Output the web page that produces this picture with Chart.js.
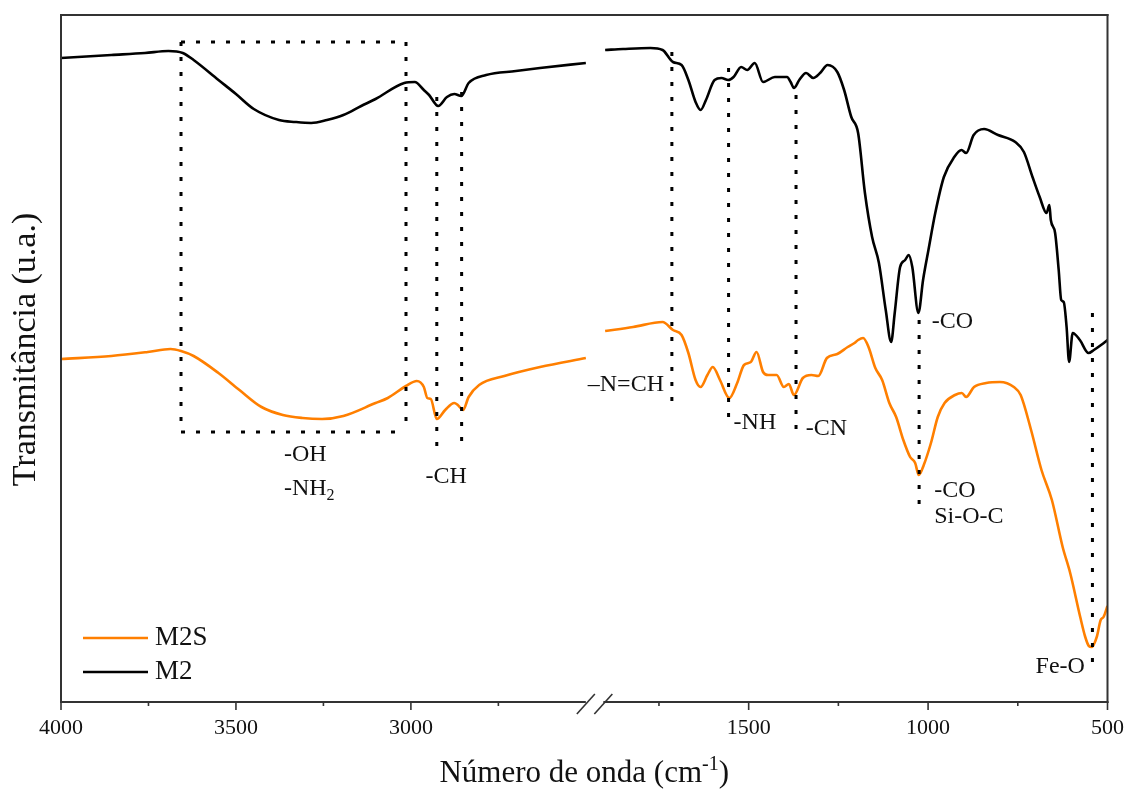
<!DOCTYPE html>
<html lang="pt">
<head>
<meta charset="utf-8">
<title>FTIR M2 / M2S</title>
<script src="https://cdn.jsdelivr.net/npm/chart.js@4.4.1/dist/chart.umd.min.js"></script>
<style>
  html, body { margin: 0; padding: 0; background: #fff; }
  #grafico { display: block; }
</style>
</head>
<body>
<canvas id="grafico" width="1124" height="789"></canvas>
<script>
'use strict';

// M2 – número de onda (cm-1) e transmitância (u.a.), trecho 4000–2500
const m2AltoNum = [4000, 3856, 3760, 3693, 3652, 3621, 3550, 3500, 3449, 3377, 3330, 3285, 3240, 3193, 3142, 3101, 3019, 2989, 2963, 2948, 2922, 2897, 2876, 2856, 2835, 2785, 2700, 2631, 2500];
const m2AltoT = [64.4, 64.7, 64.9, 65.1, 64.9, 64.2, 62.2, 60.8, 59.3, 58.2, 58.0, 57.9, 58.2, 58.7, 59.6, 60.3, 61.9, 62.0, 61.2, 60.7, 59.6, 60.5, 60.8, 60.6, 61.9, 62.7, 63.1, 63.4, 63.9];

// M2 – trecho 1900–500
const m2BaixoNum = [1900, 1850, 1774, 1740, 1711, 1687, 1668, 1648, 1634, 1619, 1595, 1576, 1557, 1542, 1521, 1504, 1483, 1460, 1427, 1393, 1383, 1374, 1359, 1340, 1320, 1301, 1280, 1253, 1234, 1214, 1195, 1176, 1156, 1137, 1118, 1103, 1093, 1078, 1064, 1054, 1044, 1027, 1014, 999, 980, 956, 927, 907, 894, 873, 844, 805, 757, 733, 709, 689, 670, 662, 658, 646, 636, 629, 622, 614, 607, 597, 577, 553, 538, 518, 500];
const m2BaixoT = [65.2, 65.3, 65.4, 65.2, 64.0, 63.7, 62.2, 60.0, 59.2, 60.2, 62.2, 62.4, 62.2, 62.5, 63.5, 63.2, 63.9, 62.0, 62.5, 62.5, 62.0, 61.4, 62.2, 62.9, 62.4, 62.9, 63.7, 63.0, 61.2, 58.5, 56.9, 50.9, 46.5, 43.9, 39.2, 36.0, 38.9, 43.5, 44.2, 44.7, 43.5, 38.9, 42.2, 45.2, 48.9, 52.5, 54.5, 55.2, 54.9, 56.7, 57.3, 56.7, 56.0, 55.0, 52.5, 50.5, 48.9, 49.7, 48.2, 46.9, 43.2, 40.2, 40.0, 37.5, 34.0, 36.9, 36.2, 34.9, 35.2, 35.7, 36.2];

// M2S – trecho 4000–2500
const m2sAltoNum = [4000, 3856, 3752, 3687, 3657, 3621, 3550, 3490, 3427, 3366, 3310, 3254, 3193, 3101, 3066, 3014, 2983, 2963, 2953, 2943, 2926, 2902, 2876, 2866, 2851, 2835, 2805, 2733, 2631, 2500];
const m2sAltoT = [34.3, 34.6, 35.0, 35.3, 35.1, 34.6, 32.9, 31.2, 29.5, 28.7, 28.4, 28.3, 28.6, 29.9, 30.4, 31.6, 32.1, 31.5, 30.4, 30.3, 28.3, 29.2, 29.9, 29.7, 29.2, 30.5, 31.7, 32.6, 33.5, 34.4];

// M2S – trecho 1900–500
const m2sBaixoNum = [1900, 1822, 1740, 1711, 1687, 1668, 1648, 1634, 1615, 1600, 1580, 1554, 1532, 1513, 1494, 1478, 1460, 1446, 1422, 1402, 1388, 1374, 1349, 1325, 1306, 1282, 1253, 1224, 1205, 1195, 1181, 1166, 1147, 1128, 1108, 1089, 1069, 1050, 1036, 1026, 1012, 992, 973, 954, 925, 906, 894, 872, 838, 800, 761, 742, 713, 684, 655, 625, 604, 576, 562, 552, 544, 530, 519, 511, 500];
const m2sBaixoT = [37.1, 37.5, 38.0, 37.2, 36.7, 34.9, 32.2, 31.5, 32.7, 33.5, 32.2, 30.4, 31.9, 33.7, 34.0, 35.0, 33.0, 32.7, 32.7, 31.5, 31.8, 30.7, 32.4, 32.7, 32.6, 34.4, 34.8, 35.5, 35.9, 36.2, 36.4, 35.5, 33.4, 32.2, 29.9, 28.5, 26.2, 24.5, 23.9, 22.7, 23.7, 25.9, 28.5, 29.9, 30.7, 30.9, 30.5, 31.5, 31.9, 32.0, 31.5, 30.7, 27.2, 23.2, 20.2, 15.5, 12.9, 8.5, 6.5, 5.6, 5.5, 6.5, 8.2, 8.5, 9.6];

// marcas do eixo x
const ticksAlto = [4000, 3500, 3000];
const ticksBaixo = [1500, 1000, 500];
const menoresAlto = [3750, 3250, 2750];
const menoresBaixo = [1750, 1250, 750];

const fonte = '"Liberation Serif", "Times New Roman", serif';
const corTexto = '#111';
const corEixo = '#333';
const laranja = '#ff7f00';

// linhas pontilhadas das bandas (número de onda, de/até em u.a.)
const bandas = [
    { eixo: 'xAlto', num: 2926, de: 60.5, ate: 25.0 },
    { eixo: 'xAlto', num: 2855, de: 61.0, ate: 25.5 },
    { eixo: 'xBaixo', num: 1714, de: 65.0, ate: 29.5 },
    { eixo: 'xBaixo', num: 1556, de: 63.4, ate: 27.7 },
    { eixo: 'xBaixo', num: 1368, de: 60.7, ate: 26.5 },
    { eixo: 'xBaixo', num: 1025, de: 38.2, ate: 19.0 },
    { eixo: 'xBaixo', num: 542, de: 38.9, ate: 3.2 },
];
const caixaOH = { eixo: 'xAlto', de: 3657, ate: 3014, topo: 66.0, base: 27.0 };

const rotulos = [
    { eixo: 'xAlto', num: 3363, t: 24.7, texto: '-OH' },
    { eixo: 'xAlto', num: 3363, t: 21.3, texto: '-NH', sub: '2' },
    { eixo: 'xAlto', num: 2958, t: 22.5, texto: '-CH' },
    { eixo: 'xBaixo', num: 1736, t: 31.7, texto: '\u2013N=CH', alinhar: 'right' },
    { eixo: 'xBaixo', num: 1542, t: 27.9, texto: '-NH' },
    { eixo: 'xBaixo', num: 1341, t: 27.3, texto: '-CN' },
    { eixo: 'xBaixo', num: 990, t: 38.0, texto: '-CO' },
    { eixo: 'xBaixo', num: 983, t: 21.1, texto: '-CO' },
    { eixo: 'xBaixo', num: 983, t: 18.5, texto: 'Si-O-C' },
    { eixo: 'xBaixo', num: 563, t: 3.5, texto: 'Fe-O', alinhar: 'right' },
];

function pontos(nums, ts) {
    return nums.map((n, i) => ({ x: n, y: ts[i] }));
}

function serie(rotulo, cor, eixo, nums, ts) {
    return {
        label: rotulo,
        data: pontos(nums, ts),
        xAxisID: eixo,
        yAxisID: 'y',
        borderColor: cor,
        backgroundColor: cor,
        borderWidth: 2.6,
        pointRadius: 0,
        cubicInterpolationMode: 'monotone',
        fill: false,
    };
}

// os dois trechos do eixo x ficam lado a lado (mesmo stack);
// o recuo dos rótulos vem do tickLength (as marcas são desenhadas à parte)
function eixoX(min, max, peso, marcas) {
    return {
        type: 'linear',
        position: 'bottom',
        reverse: true,
        min: min,
        max: max,
        bounds: 'data',
        stack: 'numero',
        stackWeight: peso,
        grid: { display: false, drawTicks: true, tickLength: 13 },
        border: { display: false },
        afterBuildTicks: (escala) => {
            escala.ticks = marcas.map((v) => ({ value: v }));
        },
        ticks: {
            padding: 0,
            autoSkip: false,
            maxRotation: 0,
            color: corTexto,
            font: { family: fonte, size: 22 },
            callback: (v) => String(v),
        },
    };
}

function linha(ctx, x0, y0, x1, y1) {
    ctx.beginPath();
    ctx.moveTo(x0, y0);
    ctx.lineTo(x1, y1);
    ctx.stroke();
}

const anotacoes = {
    id: 'anotacoes',
    afterDatasetsDraw(chart) {
        const { ctx, scales } = chart;
        const y = scales.y;
        ctx.save();
        ctx.strokeStyle = '#000';
        ctx.lineWidth = 3;
        ctx.setLineDash([4, 11]);

        // caixa da região -OH / -NH2
        const xc = scales[caixaOH.eixo];
        const l = xc.getPixelForValue(caixaOH.de);
        const r = xc.getPixelForValue(caixaOH.ate);
        const t = y.getPixelForValue(caixaOH.topo);
        const b = y.getPixelForValue(caixaOH.base);
        linha(ctx, l, t, r, t);
        linha(ctx, l, t, l, b);
        linha(ctx, r, t, r, b);
        linha(ctx, l, b, r, b);

        for (const banda of bandas) {
            const x = scales[banda.eixo].getPixelForValue(banda.num);
            linha(ctx, x, y.getPixelForValue(banda.de), x, y.getPixelForValue(banda.ate));
        }
        ctx.setLineDash([]);

        // textos das bandas
        ctx.fillStyle = corTexto;
        ctx.textBaseline = 'middle';
        for (const r of rotulos) {
            const x = scales[r.eixo].getPixelForValue(r.num);
            const yy = y.getPixelForValue(r.t);
            ctx.font = '24px ' + fonte;
            ctx.textAlign = r.alinhar || 'left';
            ctx.fillText(r.texto, x, yy);
            if (r.sub) {
                const w = ctx.measureText(r.texto).width;
                ctx.font = '16px ' + fonte;
                ctx.textAlign = 'left';
                ctx.fillText(r.sub, x + w, yy + 7);
            }
        }
        ctx.restore();
    },
    afterDraw(chart) {
        const { ctx, chartArea: a, scales } = chart;
        const xa = scales.xAlto;
        const xb = scales.xBaixo;
        ctx.save();

        // moldura com a quebra no eixo x
        const gapL = xa.getPixelForValue(2500);
        const gapR = xb.left;
        ctx.strokeStyle = corEixo;
        ctx.lineWidth = 2;
        ctx.lineCap = 'square';
        linha(ctx, a.left, a.top, a.right, a.top);
        linha(ctx, a.left, a.top, a.left, a.bottom);
        linha(ctx, a.right, a.top, a.right, a.bottom);
        ctx.lineCap = 'butt';
        linha(ctx, a.left - 1, a.bottom, gapL, a.bottom);
        linha(ctx, gapR, a.bottom, a.right + 1, a.bottom);
        ctx.lineWidth = 1.6;
        for (const cx of [gapL, gapR]) {
            linha(ctx, cx - 9, a.bottom + 12, cx + 9, a.bottom - 8);
        }

        // marcas principais e secundárias
        ctx.lineWidth = 1.6;
        for (const v of ticksAlto) {
            const x = xa.getPixelForValue(v);
            linha(ctx, x, a.bottom, x, a.bottom + 8);
        }
        for (const v of ticksBaixo) {
            const x = xb.getPixelForValue(v);
            linha(ctx, x, a.bottom, x, a.bottom + 8);
        }
        for (const v of menoresAlto) {
            const x = xa.getPixelForValue(v);
            linha(ctx, x, a.bottom, x, a.bottom + 4);
        }
        for (const v of menoresBaixo) {
            const x = xb.getPixelForValue(v);
            linha(ctx, x, a.bottom, x, a.bottom + 4);
        }

        // título do eixo x com expoente
        ctx.fillStyle = corTexto;
        ctx.textBaseline = 'alphabetic';
        ctx.textAlign = 'left';
        const parte1 = 'Número de onda (cm';
        const expo = '-1';
        const parte2 = ')';
        ctx.font = '31px ' + fonte;
        const w1 = ctx.measureText(parte1).width;
        const w3 = ctx.measureText(parte2).width;
        ctx.font = '20px ' + fonte;
        const w2 = ctx.measureText(expo).width;
        const x0 = (a.left + a.right) / 2 - (w1 + w2 + w3) / 2;
        const base = 782;
        ctx.font = '31px ' + fonte;
        ctx.fillText(parte1, x0, base);
        ctx.font = '20px ' + fonte;
        ctx.fillText(expo, x0 + w1, base - 12);
        ctx.font = '31px ' + fonte;
        ctx.fillText(parte2, x0 + w1 + w2, base);

        // título do eixo y
        ctx.save();
        ctx.translate(26, (a.top + a.bottom) / 2 - 9);
        ctx.rotate(-Math.PI / 2);
        ctx.textAlign = 'center';
        ctx.textBaseline = 'middle';
        ctx.font = '34px ' + fonte;
        ctx.fillText('Transmitância (u.a.)', 0, 0);
        ctx.restore();

        // legenda (uma entrada por série)
        const vistos = [];
        for (const ds of chart.data.datasets) {
            if (!vistos.find((d) => d.label === ds.label)) vistos.push(ds);
        }
        ctx.font = '27px ' + fonte;
        ctx.textBaseline = 'middle';
        ctx.textAlign = 'left';
        vistos.forEach((ds, i) => {
            const yy = a.bottom - 64 + i * 34;
            ctx.strokeStyle = ds.borderColor;
            ctx.lineWidth = 2.6;
            linha(ctx, a.left + 22, yy, a.left + 87, yy);
            ctx.fillStyle = corTexto;
            ctx.fillText(ds.label, a.left + 94, yy);
        });
        ctx.restore();
    },
};

const ctx = document.getElementById('grafico').getContext('2d');
new Chart(ctx, {
    type: 'line',
    data: {
        datasets: [
            serie('M2S', laranja, 'xAlto', m2sAltoNum, m2sAltoT),
            serie('M2S', laranja, 'xBaixo', m2sBaixoNum, m2sBaixoT),
            serie('M2', '#000', 'xAlto', m2AltoNum, m2AltoT),
            serie('M2', '#000', 'xBaixo', m2BaixoNum, m2BaixoT),
        ],
    },
    options: {
        responsive: false,
        animation: false,
        events: [],
        layout: { padding: { left: 61, right: 16, top: 15, bottom: 47.6 } },
        plugins: {
            legend: { display: false },
            tooltip: { enabled: false },
        },
        scales: {
            xAlto: eixoX(2450, 4000, 542.6, ticksAlto),
            xBaixo: eixoX(500, 1905, 504.4, ticksBaixo),
            y: { type: 'linear', display: false, min: 0, max: 68.7 },
        },
    },
    plugins: [anotacoes],
});
</script>
</body>
</html>
